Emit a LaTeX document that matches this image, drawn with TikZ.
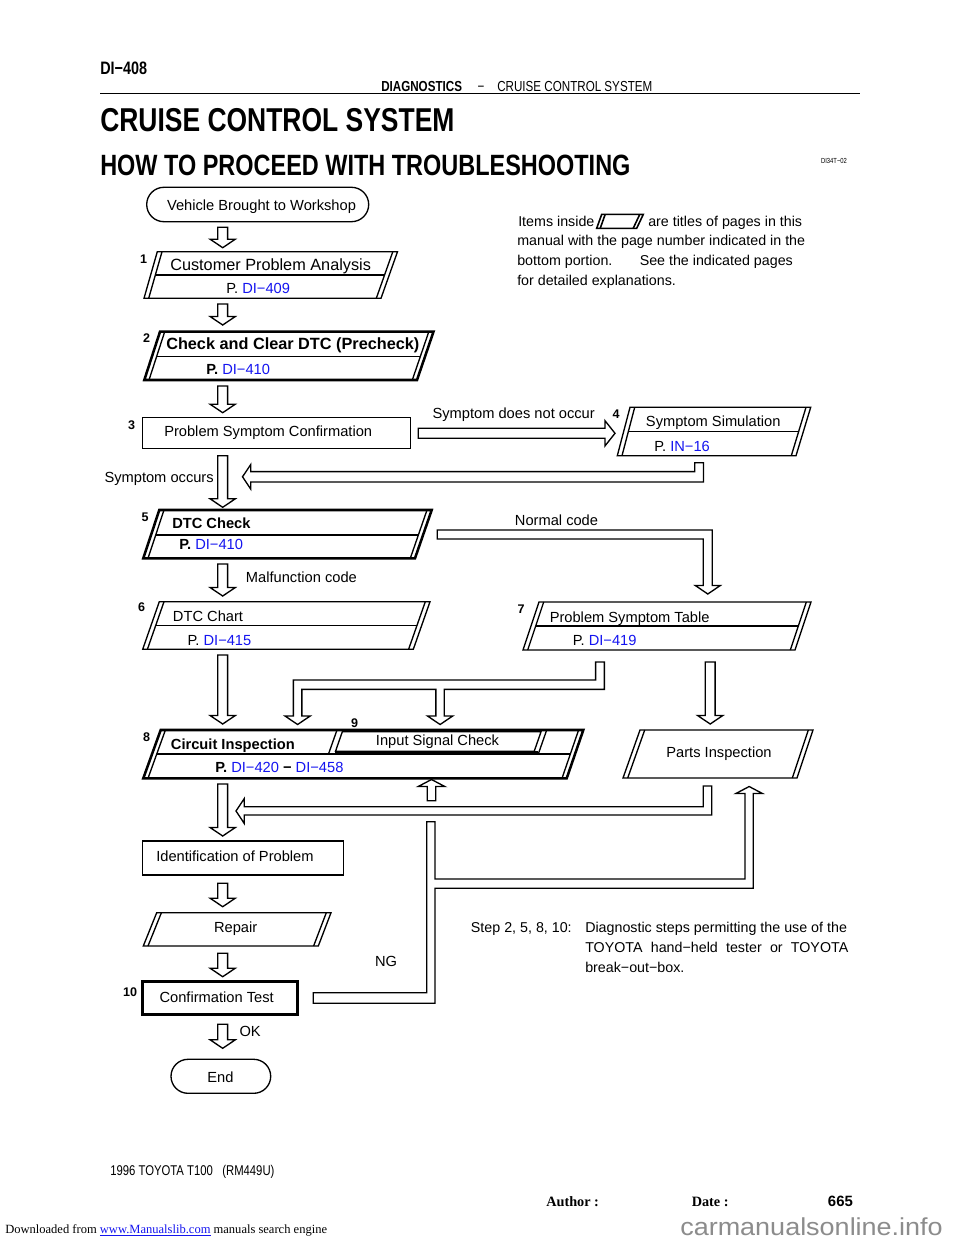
\documentclass[tikz,border=0pt]{standalone}
\usepackage{fontspec}
\setmainfont{Liberation Sans}
\newfontfamily\narrowf[FakeStretch=0.8]{Liberation Sans}
\newfontfamily\widef[FakeStretch=1.1]{Liberation Sans}
\newfontfamily\seriff{Liberation Serif}
\usetikzlibrary{calc}
\definecolor{linkblue}{RGB}{20,20,240}
\definecolor{wmgray}{RGB}{140,140,140}
\newcommand{\fsz}[1]{\fontsize{#1pt}{#1pt}\selectfont}
\newcommand{\lnk}[1]{\textcolor{linkblue}{#1}}
% parallelogram with doubled slanted sides: style, ytop, ybot, topleft x, botleft x, topright x, botright x
\newcommand{\pgram}[7]{%
  \draw[#1] (#4,#2)--(#6,#2)--(#7,#3)--(#5,#3)--cycle;
  \draw[nline] ({#4+4.7},#2)--({#5+4.7},#3);
  \draw[nline] ({#6-4.7},#2)--({#7-4.7},#3);
}
\newcommand{\pdiv}[7]{%
  \draw[nline] ({#3+4.7+(#4-#3)*(#7-#1)/(#2-#1)},#7)--({#5-4.7+(#6-#5)*(#7-#1)/(#2-#1)},#7);
}
\newcommand{\darr}[3]{\draw[arr] ({#1-4.9},#2)--({#1+4.9},#2)--({#1+4.9},{#3-8.5})--({#1+12.6},{#3-8.5})--(#1,#3)--({#1-12.6},{#3-8.5})--({#1-4.9},{#3-8.5})--cycle;}
\newcommand{\uarr}[3]{\draw[arr] ({#1-4.2},#2)--({#1+4.2},#2)--({#1+4.2},{#3+7})--({#1+13.3},{#3+7})--(#1,#3)--({#1-13.3},{#3+7})--({#1-4.2},{#3+7})--cycle;}

\begin{document}
\begin{tikzpicture}[x=0.75pt,y=-0.75pt,
  nline/.style={line width=1pt},
  bline/.style={line width=1.9pt},
  arr/.style={draw,line width=1pt,fill=white,line join=miter},
  lbl/.style={inner sep=0pt,text depth=0pt,font=\fsz{11},text height=7.9pt},
  big/.style={inner sep=0pt,text depth=0pt,font=\fsz{12.2},text height=8.75pt},
  sml/.style={inner sep=0pt,text depth=0pt,font=\fsz{10.7},text height=7.65pt},
  num/.style={inner sep=0pt,text depth=0pt,font=\bfseries\fsz{9.4},text height=6.75pt},
]
\useasboundingbox (0,0) rectangle (960,1242);
\fill[white] (0,0) rectangle (960,1242);

% ---------- page header ----------
\node[anchor=west,inner sep=0pt,text depth=0pt,text height=9.7pt,font=\narrowf\bfseries\fsz{13.5}] (pgno) at (100,68) {DI−408};
\node[anchor=west,inner sep=0pt,text depth=0pt,text height=7.8pt,font=\narrowf\bfseries\fsz{10.9}] (hd1) at (381,86.5) {DIAGNOSTICS};
\node[inner sep=0pt,text depth=0pt,text height=7.8pt,font=\narrowf\fsz{10.9}] (hd2) at (481,86.5) {−};
\node[anchor=west,inner sep=0pt,text depth=0pt,text height=7.8pt,font=\narrowf\fsz{10.9}] (hd3) at (497,86.5) {CRUISE CONTROL SYSTEM};
\draw[line width=1.1pt] (100,93.5)--(860,93.5);
\node[anchor=west,inner sep=0pt,text depth=0pt,text height=17.8pt,font=\narrowf\bfseries\fsz{24.8}] (title1) at (100,119.5) {CRUISE CONTROL SYSTEM};
\node[anchor=west,inner sep=0pt,text depth=0pt,text height=15.8pt,font=\narrowf\bfseries\fsz{22}] (title2) at (100,165) {HOW TO PROCEED WITH TROUBLESHOOTING};
\node[inner sep=0pt,text depth=0pt,text height=4pt,font=\narrowf\fsz{5.5}] (code) at (834,161) {DI34T−02};

% ---------- legend ----------
\node[sml,anchor=west] (lg1a) at (518,221.7) {Items inside};
\draw[line width=1.2pt] (601.7,214.3)--(643.3,214.3)--(636.7,228.3)--(596.7,228.3)--cycle;
\draw[line width=1.2pt] (605.2,214.3)--(600.2,228.3);
\draw[line width=1.2pt] (639.8,214.3)--(633.2,228.3);
\node[sml,anchor=west] (lg1b) at (648,221.7) {are titles of pages in this};
\node[sml,anchor=west] (lg2) at (517,240.5) {manual with the page number indicated in the};
\node[sml,anchor=west] (lg3) at (517,260) {bottom portion.\hspace{20.5pt}See the indicated pages};
\node[sml,anchor=west] (lg4) at (517,280) {for detailed explanations.};

% ---------- start ----------
\draw[nline,rounded corners=12.9pt] (146.7,187.3) rectangle (368.7,221.7);
\node[lbl] (start) at (261.5,205) {Vehicle Brought to Workshop};
\darr{222.7}{227.3}{247.7}

% ---------- 1 ----------
\pgram{nline}{251.7}{298.3}{157.3}{144}{397.5}{381}
\pdiv{251.7}{298.3}{157.3}{144}{397.5}{381}{275}
\node[num] (n1) at (143.5,259) {1};
\node[big,anchor=west] (s1) at (170,264.5) {Customer Problem Analysis};
\node[lbl,anchor=west] (p1) at (226,288.5) {P. \lnk{DI−409}};
\darr{222.7}{304}{325}

% ---------- 2 ----------
\pgram{bline}{331.7}{380}{160}{144.3}{433.5}{417}
\pdiv{331.7}{380}{160}{144.3}{433.5}{417}{356.7}
\node[num] (n2) at (146.5,338) {2};
\node[big,anchor=west] (s2) at (166,343.5) {\textbf{Check and Clear DTC (Precheck)}};
\node[lbl,anchor=west] (p2) at (206,369) {\textbf{P.} \lnk{DI−410}};
\darr{222.7}{386}{412.7}

% ---------- 3 ----------
\draw[nline] (142.3,417.3) rectangle (410.7,448.3);
\node[num] (n3) at (131.7,425) {3};
\node[lbl,anchor=west] (s3) at (164,431) {Problem Symptom Confirmation};

% symptom does not occur
\draw[arr] (418.3,428.3)--(605,428.3)--(605,420.7)--(615,433.3)--(605,445.9)--(605,438.3)--(418.3,438.3)--cycle;
\node[lbl,anchor=west] (l_not) at (432.3,413.5) {Symptom does not occur};

% ---------- 4 ----------
\pgram{nline}{407.3}{455.7}{630}{617.3}{810.7}{796}
\pdiv{407.3}{455.7}{630}{617.3}{810.7}{796}{431.7}
\node[num] (n4) at (616,413.5) {4};
\node[lbl,anchor=west] (s4) at (645.7,421.5) {Symptom Simulation};
\node[lbl,anchor=west] (p4) at (654,446) {P. \lnk{IN−16}};
% return from 4
\draw[arr] (694.8,462.7)--(703.5,462.7)--(703.5,482)--(250.7,482)--(250.7,489)--(242.5,476.8)--(250.7,464.6)--(250.7,471.6)--(694.8,471.6)--cycle;

% symptom occurs
\darr{222.7}{455.7}{507.3}
\node[lbl,anchor=east] (l_occ) at (214,477) {Symptom occurs};

% ---------- 5 ----------
\pgram{bline}{510}{558.3}{159.3}{143.3}{431.7}{415}
\pdiv{510}{558.3}{159.3}{143.3}{431.7}{415}{535}
\node[num] (n5) at (145,516.5) {5};
\node[lbl,anchor=west] (s5) at (172,523.5) {\textbf{DTC Check}};
\node[lbl,anchor=west] (p5) at (179,544.5) {\textbf{P.} \lnk{DI−410}};
% normal code
\draw[arr] (437.3,530)--(712.3,530)--(712.3,585.5)--(720.3,585.5)--(707.8,594)--(695.3,585.5)--(703.3,585.5)--(703.3,539)--(437.3,539)--cycle;
\node[lbl] (l_norm) at (556.5,520) {Normal code};
% malfunction code
\darr{222.7}{564}{596}
\node[lbl,anchor=west] (l_mal) at (245.7,577.3) {Malfunction code};

% ---------- 6 ----------
\pgram{nline}{601.7}{649.3}{159.3}{142.7}{430}{413.3}
\pdiv{601.7}{649.3}{159.3}{142.7}{430}{413.3}{625.7}
\node[num] (n6) at (141.7,606.7) {6};
\node[lbl,anchor=west] (s6) at (172.7,616) {DTC Chart};
\node[lbl,anchor=west] (p6) at (187.3,640) {P. \lnk{DI−415}};
\darr{222.7}{655}{724}

% ---------- 7 ----------
\pgram{nline}{602}{650}{539}{523}{811}{795}
\pdiv{602}{650}{539}{523}{811}{795}{626}
\node[num] (n7) at (521,609) {7};
\node[lbl,anchor=west] (s7) at (549.5,617) {Problem Symptom Table};
\node[lbl,anchor=west] (p7) at (572.5,640.5) {P. \lnk{DI−419}};
% branch from 7
\draw[arr] (595.6,662)--(604.4,662)--(604.4,689.4)--(444.3,689.4)--(444.3,716)--(452.7,716)--(440.1,724.5)--(427.5,716)--(435.9,716)--(435.9,689.4)--(301.9,689.4)--(301.9,716)--(310.2,716)--(297.6,724.5)--(285,716)--(293.4,716)--(293.4,680)--(595.6,680)--cycle;
\darr{710.2}{662}{724}

% ---------- 8 / 9 ----------
\pgram{bline}{730}{778.3}{160.7}{143.3}{583.3}{566.7}
\pdiv{730}{778.3}{160.7}{143.3}{583.3}{566.7}{754}
\draw[nline] (328.5,754)--(337,730);
\draw[nline] (538.3,754)--(546.7,730);
\draw[nline] (342.3,731.8)--(541,731.8)--(534.2,751.3)--(335.5,751.3)--cycle;
\draw[line width=1.5pt] (334.8,752.4)--(537.8,752.4);
\node[num] (n8) at (146.5,737) {8};
\node[num] (n9) at (354.5,722.5) {9};
\node[lbl,anchor=west] (s8) at (170.7,744.3) {\textbf{Circuit Inspection}};
\node[lbl,anchor=west] (s9) at (375.7,740) {Input Signal Check};
\node[lbl,anchor=west] (p8) at (215,767.7) {\textbf{P.} \lnk{DI−420} \textbf{−} \lnk{DI−458}};

% ---------- parts inspection ----------
\pgram{nline}{730}{778}{640}{623}{813}{797}
\node[lbl] (parts) at (719,752.3) {Parts Inspection};

% returns
\uarr{431.5}{800.7}{779.5}
\draw[arr] (703.3,786)--(711.7,786)--(711.7,815)--(244.3,815)--(244.3,823.5)--(236,811)--(244.3,798.5)--(244.3,806.7)--(703.3,806.7)--cycle;
\darr{222.7}{784}{836}

% ---------- identification ----------
\draw[nline] (142.3,841) rectangle (343.3,875);
\node[lbl,anchor=west] (ident) at (156,856) {Identification of Problem};
\darr{222.7}{883.3}{906.7}

% ---------- repair ----------
\pgram{nline}{912.7}{946}{156.7}{143.3}{331}{318.3}
\node[lbl] (repair) at (235.7,927.7) {Repair};
\darr{222.7}{953.3}{976.7}

% ---------- 10 ----------
\draw[bline] (142.3,981.7) rectangle (297.7,1014.3);
\node[num] (n10) at (130,992) {10};
\node[lbl,anchor=west] (s10) at (159.3,997.3) {Confirmation Test};
% NG
\draw[arr] (313.3,992.7)--(426.7,992.7)--(426.7,821.7)--(435,821.7)--(435,879)--(745,879)--(745,793.5)--(735.9,793.5)--(749.15,786.5)--(762.4,793.5)--(753.3,793.5)--(753.3,888.3)--(435,888.3)--(435,1003.3)--(313.3,1003.3)--cycle;
\node[lbl] (l_ng) at (386,961.5) {NG};
% OK
\darr{222.7}{1024.3}{1048.3}
\node[lbl,anchor=west] (l_ok) at (239.3,1031.7) {OK};

% ---------- end ----------
\draw[nline,rounded corners=12.75pt] (171,1059.3) rectangle (270.7,1093.3);
\node[lbl] (endn) at (220.5,1077) {End};

% ---------- note ----------
\node[sml,anchor=west] (st1) at (470.7,927.3) {Step 2, 5, 8, 10:};
\node[sml,anchor=west] (st2) at (585,927.3) {Diagnostic steps permitting the use of the};
\node[sml,anchor=west] (st3) at (585,947.3) {\makebox[197.25pt][s]{TOYOTA hand−held tester or TOYOTA}};
\node[sml,anchor=west] (st4) at (585,967) {break−out−box.};

% ---------- footer ----------
\node[anchor=west,inner sep=0pt,text depth=0pt,text height=7.6pt,font=\narrowf\fsz{10.6}] (foot) at (110,1170) {1996 TOYOTA T100~~~(RM449U)};
\node[anchor=west,inner sep=0pt,text depth=0pt,text height=7pt,font=\seriff\bfseries\fsz{10.7}] (auth) at (546,1201.5) {Author :};
\node[anchor=west,inner sep=0pt,text depth=0pt,text height=7pt,font=\seriff\bfseries\fsz{10.7}] (date) at (691.5,1201.5) {Date :};
\node[anchor=west,inner sep=0pt,text depth=0pt,text height=7.6pt,font=\bfseries\fsz{11.2}] (pnum) at (827.7,1201.5) {665};
\node[anchor=west,inner sep=0pt,text depth=0pt,text height=6.2pt,font=\seriff\fsz{9.4}] (dl) at (5,1229) {Downloaded from \textcolor{linkblue}{\underline{www.Manualslib.com}} manuals search engine};
\node[anchor=base west,inner sep=0pt,font=\widef\fsz{18.4},text=wmgray] (wm) at (680,1235) {carmanualsonline.info};
\end{tikzpicture}
\end{document}
